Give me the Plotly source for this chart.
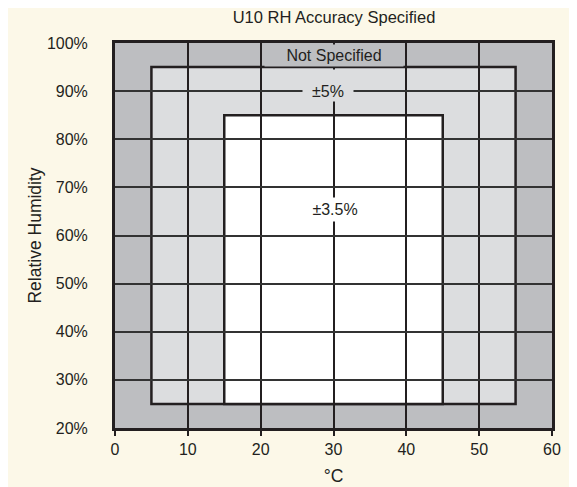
import plotly.graph_objects as go

# Axis extents
temp_range = [0, 60]
rh_range = [20, 100]
temp_ticks = [0, 10, 20, 30, 40, 50, 60]
rh_ticks = [20, 30, 40, 50, 60, 70, 80, 90, 100]
rh_tick_labels = ["20%", "30%", "40%", "50%", "60%", "70%", "80%", "90%", "100%"]

# Accuracy regions: (temp min, temp max), (RH min, RH max)
region_labels = ["Not Specified", "±5%", "±3.5%"]
region5_temp = [5, 55]
region5_rh = [25, 95]
region35_temp = [15, 45]
region35_rh = [25, 85]

BG = "#fcf8e8"
DARK = "#bdbec1"
LIGHT = "#dcdddf"
INK = "#231f20"
FONT = "Liberation Sans, Arial, sans-serif"

fig = go.Figure()
# invisible trace to establish axes
fig.add_trace(go.Scatter(x=temp_range, y=rh_range, mode="markers",
                         marker=dict(opacity=0), hoverinfo="skip", showlegend=False))

fig.add_shape(type="rect", xref="x", yref="y",
              x0=region5_temp[0], x1=region5_temp[1], y0=region5_rh[0], y1=region5_rh[1],
              fillcolor=LIGHT, line=dict(color=INK, width=2.5), layer="below")
fig.add_shape(type="rect", xref="x", yref="y",
              x0=region35_temp[0], x1=region35_temp[1], y0=region35_rh[0], y1=region35_rh[1],
              fillcolor="white", line=dict(color=INK, width=2.5), layer="below")

# Labels
fig.add_annotation(x=30, y=(region5_rh[1] + rh_range[1]) / 2, xref="x", yref="y",
                   text=region_labels[0], showarrow=False, bgcolor=DARK,
                   width=136, height=19, font=dict(size=16, color=INK, family=FONT))
fig.add_annotation(x=29.2, y=region5_rh[1], xref="x", yref="y", yanchor="top", yshift=-2,
                   text=region_labels[1], showarrow=False, bgcolor=LIGHT,
                   width=48, height=29, valign="bottom", borderpad=1,
                   font=dict(size=16, color=INK, family=FONT))
fig.add_annotation(x=30.2, y=65.5, xref="x", yref="y",
                   text=region_labels[2], showarrow=False, bgcolor="white",
                   width=48, height=21, font=dict(size=16, color=INK, family=FONT))

fig.update_layout(
    width=577, height=487,
    paper_bgcolor=BG, plot_bgcolor=DARK,
    margin=dict(l=107, r=33, t=35, b=67, autoexpand=False),
    font=dict(family=FONT, size=16, color=INK),
    title=dict(text="U10 RH Accuracy Specified", x=0.565, xanchor="center",
               y=1.0, yanchor="top", pad=dict(t=3), font=dict(size=16.5, color=INK)),
    showlegend=False,
)
fig.update_xaxes(range=temp_range, tickvals=temp_ticks, showgrid=True, gridcolor=INK,
                 gridwidth=2.2, zeroline=False, showline=True, mirror=True, linecolor=INK,
                 linewidth=3, ticks="outside", ticklen=5, tickwidth=2, tickcolor=INK,
                 ticklabelstandoff=0, automargin=False,
                 title=dict(text="°C", standoff=13, font=dict(size=17.5)))
fig.update_yaxes(range=rh_range, tickvals=rh_ticks, ticktext=rh_tick_labels, showgrid=True,
                 gridcolor="#333333", gridwidth=1.5, zeroline=False, showline=True,
                 mirror=True, linecolor=INK, linewidth=3, ticks="", ticklabelstandoff=21,
                 automargin=False,
                 title=dict(text="Relative Humidity", standoff=1, font=dict(size=17.5)))

fig.write_html("out.html")
